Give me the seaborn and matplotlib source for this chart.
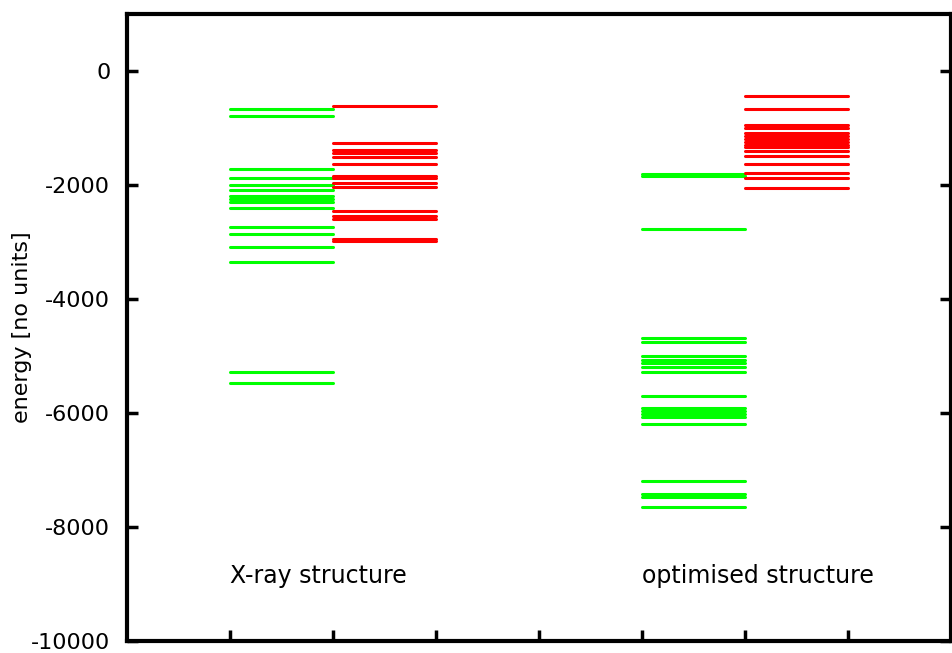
import pandas as pd
import matplotlib.pyplot as plt
import seaborn as sns
import numpy as np

sns.set_style("white")
plt.rcParams['font.family'] = ['DejaVu Sans']
plt.rcParams['axes.unicode_minus'] = False
plt.rcParams['text.color'] = 'black'
plt.rcParams['axes.labelcolor'] = 'black'
plt.rcParams['xtick.color'] = 'black'
plt.rcParams['ytick.color'] = 'black'

# energy levels
xray_occupied = [-672, -795, -1714, -1883, -2000, -2090, -2190, -2245, -2295, -2398,
                 -2743, -2865, -3088, -3351, -5281, -5468]
xray_virtual = [-608, -1269, -1390, -1445, -1500, -1626, -1840, -1885, -1971, -2041,
                -2450, -2545, -2600, -2940, -2985]
opt_occupied = [-1805, -1850, -2778, -4690, -4760, -4995, -5075, -5125, -5187, -5287,
                -5708, -5915, -5960, -6015, -6065, -6188, -7187, -7425, -7480, -7649]
opt_virtual = [-433, -661, -955, -1000, -1080, -1132, -1185, -1237, -1290, -1342,
               -1404, -1485, -1637, -1795, -1883, -2053]

structure_labels = ["X-ray structure", "optimised structure"]
ylabel = "energy [no units]"

# column slots (left, right) for each set of levels
sets = [
    ("occupied", xray_occupied, 1, 2),
    ("virtual", xray_virtual, 2, 3),
    ("occupied", opt_occupied, 5, 6),
    ("virtual", opt_virtual, 6, 7),
]

rows = []
uid = 0
for kind, levels, x0, x1 in sets:
    for e in levels:
        rows.append({"id": uid, "kind": kind, "x": x0, "energy": e})
        rows.append({"id": uid, "kind": kind, "x": x1, "energy": e})
        uid += 1
df = pd.DataFrame(rows)

fig = plt.figure(figsize=(9.53, 6.53), dpi=100)
ax = fig.add_axes([127 / 953, 1 - 641 / 653, (951 - 127) / 953, (641 - 14) / 653])

sns.lineplot(data=df, x="x", y="energy", hue="kind", units="id", estimator=None,
             palette={"occupied": "#00ff00", "virtual": "#ff0000"},
             linewidth=2.2, sort=False, legend=False, ax=ax)

ax.set_xlim(0, 8)
ax.set_ylim(-10000, 1000)
ax.set_xticks(range(1, 8))
ax.set_xticklabels([])
ax.set_yticks(range(-10000, 1, 2000))
ax.set_xlabel("")
ax.set_ylabel(ylabel, fontsize=16)
ax.yaxis.set_label_coords(-127 / 824 + 32 / 824, 0.5)
ax.tick_params(axis="y", labelsize=16, direction="in", length=8, width=2.5,
               left=True, right=True, pad=12)
ax.tick_params(axis="x", direction="in", length=8, width=2.5, bottom=True)
for s in ax.spines.values():
    s.set_linewidth(3)
    s.set_color("black")

ax.text(1, -8860, structure_labels[0], fontsize=17, va="center", ha="left")
ax.text(5, -8860, structure_labels[1], fontsize=17, va="center", ha="left")

fig.savefig("out.png", dpi=100)
